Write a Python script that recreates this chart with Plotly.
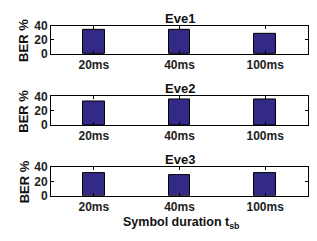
import plotly.graph_objects as go

categories = ["20ms", "40ms", "100ms"]
eve1 = [34.3, 33.7, 28.4]
eve2 = [32.5, 36.4, 36.0]
eve3 = [31.7, 28.1, 32.1]
titles = ["Eve1", "Eve2", "Eve3"]
series = [eve1, eve2, eve3]
yticks = [0, 20, 40]

W, H = 317, 241
x0, x1 = 51, 308
panels = [(20, 50), (95, 125.3), (170, 200.3)]

fig = go.Figure()
FONT = "Liberation Sans, Arial, sans-serif"
annotations = []
for i, (vals, (top, bot)) in enumerate(zip(series, panels), start=1):
    xa = "x" if i == 1 else f"x{i}"
    ya = "y" if i == 1 else f"y{i}"
    fig.add_trace(go.Bar(
        x=[0, 1, 2], y=vals, width=0.25,
        marker=dict(color="#332a88", line=dict(color="black", width=1)),
        xaxis=xa, yaxis=ya, showlegend=False,
    ))
    xkey = "xaxis" if i == 1 else f"xaxis{i}"
    ykey = "yaxis" if i == 1 else f"yaxis{i}"
    fig.update_layout(**{
        xkey: dict(
            domain=[x0 / W, x1 / W], anchor=ya, range=[-0.5, 2.5],
            tickvals=[0, 1, 2], ticktext=categories,
            ticks="inside", ticklen=3, tickcolor="black",
            showline=True, linecolor="black", linewidth=1, mirror="ticks",
            showgrid=False, zeroline=False,
            tickfont=dict(family=FONT, size=12, color="#222", weight="bold"),
        ),
        ykey: dict(
            domain=[(H - bot) / H, (H - top) / H], anchor=xa, range=[0, 40],
            tickvals=yticks, ticks="inside", ticklen=3, tickcolor="black",
            showline=True, linecolor="black", linewidth=1, mirror="ticks",
            showgrid=False, zeroline=False,
            tickfont=dict(family=FONT, size=12, color="#222", weight="bold"),
        ),
    })
    annotations.append(dict(
        text=f"<b>{titles[i-1]}</b>", x=(x0 + x1) / 2 / W, y=(H - (top - 8)) / H,
        xref="paper", yref="paper", showarrow=False, xanchor="center", yanchor="middle",
        font=dict(family=FONT, size=13, color="#111"),
    ))
    annotations.append(dict(
        text="<b>BER %</b>", x=24 / W, y=(H - (top + bot) / 2 - 1) / H,
        xref="paper", yref="paper", showarrow=False, textangle=-90,
        xanchor="center", yanchor="middle",
        font=dict(family=FONT, size=13, color="#111"),
    ))

annotations.append(dict(
    text="<b>Symbol duration t<sub>sb</sub></b>", x=181 / W, y=(H - 229) / H,
    xref="paper", yref="paper", showarrow=False, xanchor="center", yanchor="middle",
    font=dict(family=FONT, size=12.5, color="#111"),
))

fig.update_layout(
    width=W, height=H, margin=dict(l=0, r=0, t=0, b=0),
    paper_bgcolor="white", plot_bgcolor="white",
    annotations=annotations, bargap=0,
)
fig.write_html("out.html", config={"displayModeBar": False},
               post_script="document.body.style.margin='0';")
